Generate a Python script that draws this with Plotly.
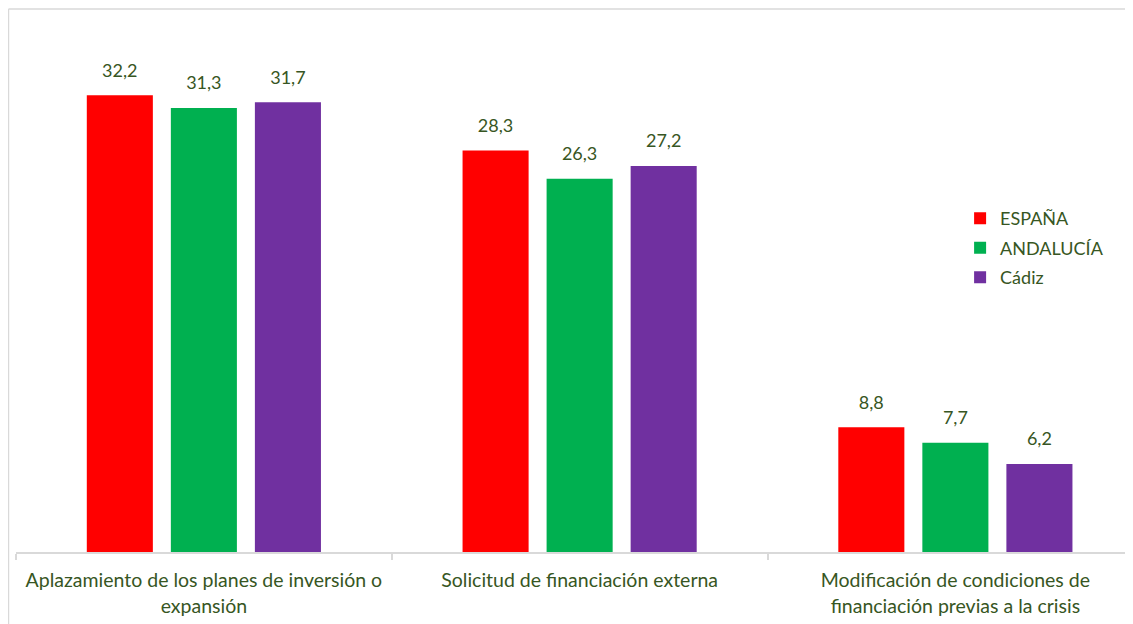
import plotly.graph_objects as go

categories = [
    "Aplazamiento de los planes de inversión o<br>expansión",
    "Solicitud de financiación externa",
    "Modificación de condiciones de<br>financiación previas a la crisis",
]
series_names = ["ESPAÑA", "ANDALUCÍA", "Cádiz"]
espana = [32.2, 28.3, 8.8]
andalucia = [31.3, 26.3, 7.7]
cadiz = [31.7, 27.2, 6.2]
colors = ["#FF0000", "#00B050", "#7030A0"]

values = [espana, andalucia, cadiz]
label_color = "#375623"
font_family = "Lato"

fig = go.Figure()
for i, (name, vals) in enumerate(zip(series_names, values)):
    fig.add_trace(go.Bar(
        x=categories, y=vals, name=name,
        marker=dict(color=colors[i], line=dict(width=0)),
        offsetgroup=str(i), legendgroup=name,
        hoverinfo="x+y+name",
    ))
for i, vals in enumerate(values):
    fig.add_trace(go.Scatter(
        x=categories, y=vals, mode="markers+text",
        text=[f"{v:.1f}".replace(".", ",") for v in vals],
        textposition="top center",
        textfont=dict(color=label_color, size=18, family=font_family),
        marker=dict(size=21, opacity=0),
        offsetgroup=str(i),
        showlegend=False, hoverinfo="skip", cliponaxis=False,
    ))

fig.update_layout(
    width=1133, height=624,
    paper_bgcolor="white", plot_bgcolor="white",
    margin=dict(l=8, r=0, t=1, b=80),
    barmode="group", bargap=0.329, bargroupgap=0.214,
    scattermode="group", scattergap=0.329,
    font=dict(family=font_family, color=label_color, size=18),
    legend=dict(
        x=0.8392, y=0.648, xanchor="left", yanchor="top",
        font=dict(size=18, color=label_color, family=font_family),
        bgcolor="rgba(0,0,0,0)", itemwidth=30,
        traceorder="grouped", tracegroupgap=3,
    ),
    xaxis=dict(
        type="category", range=[-0.5, 2.494],
        showline=True, linecolor="#D9D9D9", linewidth=2,
        ticks="outside", tickson="boundaries", ticklen=6,
        tickcolor="#D9D9D9", tickwidth=1.5, ticklabelstandoff=10,
        tickfont=dict(size=19.5, color=label_color, family=font_family),
        showgrid=False, zeroline=False, fixedrange=True,
    ),
    yaxis=dict(
        range=[0, 38.27], visible=False, showgrid=False, zeroline=False,
        fixedrange=True,
    ),
    showlegend=True,
    shapes=[
        dict(type="line", xref="paper", yref="paper",
             x0=-0.0067, x1=1.01, y0=1, y1=1,
             line=dict(color="#D9D9D9", width=1.5)),
        dict(type="line", xref="paper", yref="paper",
             x0=-0.0067, x1=-0.0067, y0=-0.2, y1=1,
             line=dict(color="#D9D9D9", width=1.5)),
    ],
)

fig.write_html("out.html")
